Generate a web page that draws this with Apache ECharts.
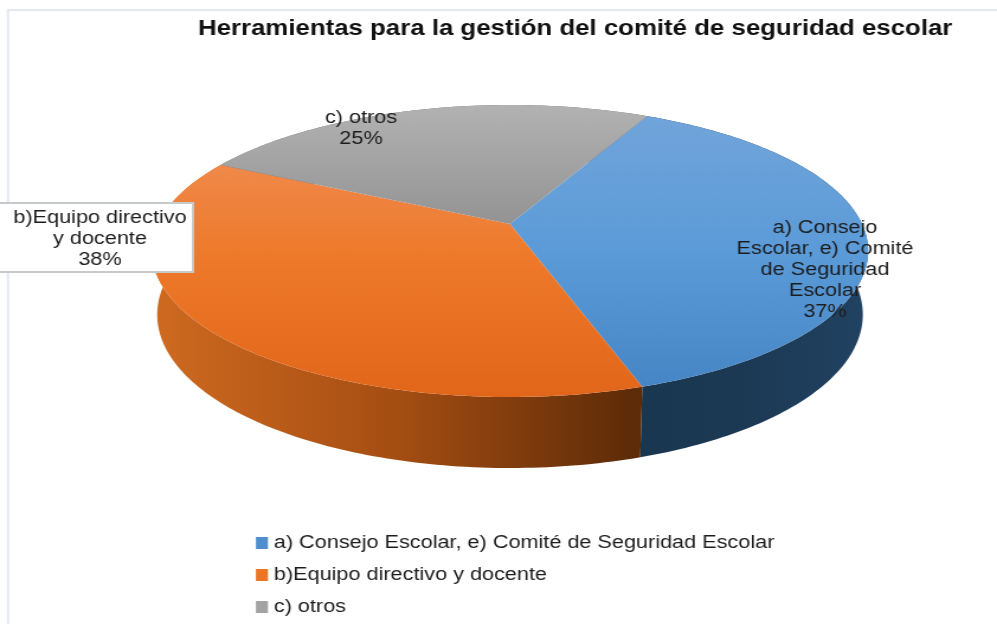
<!DOCTYPE html>
<html>
<head>
<meta charset="utf-8">
<style>
  html, body { margin: 0; padding: 0; background: #fff; overflow: hidden; }
  /* the source picture is a screenshot stretched sideways, so the chart is too */
  #chart { width: 842px; height: 624px; transform-origin: 0 0; transform: scaleX(1.18408); }
</style>
<script src="https://cdn.jsdelivr.net/npm/echarts@6/dist/echarts.min.js"></script>
</head>
<body>
<div id="chart"></div>
<script>
const chartTitle = 'Herramientas para la gestión del comité de seguridad escolar'
const categories = [
  'a) Consejo Escolar, e) Comité de Seguridad Escolar',
  'b)Equipo directivo y docente',
  'c) otros'
]
const percents = [37.49, 37.51, 25]
const labelLines = [
  ['a) Consejo', 'Escolar, e) Comité', 'de Seguridad', 'Escolar'],
  ['b)Equipo directivo', 'y docente'],
  ['c) otros']
]
const labelSpots = [[825, 270], [100, 239], [361, 128]]

// everything below is given in screen px, sx() takes it to the unstretched canvas
const stretch = 997 / 842
const sx = (px) => px / stretch

// perspective of the disc, fitted by eye against the picture
const cx = 510, cy = 224, rx = 352, ry = 141, persp = 0.185
const startDeg = 27

function project (deg) {
  let t = deg * Math.PI / 180
  let u = Math.sin(t), v = -Math.cos(t)
  let w = 1 - persp * v
  return { x: cx + rx * u / w, y: cy + ry * v / w, v: v }
}

function lower (p) {
  return [sx(cx + (p.x - cx) * 0.985), p.y + 62 + 9 * p.v]
}

const vGrad = (stops) => ({
  type: 'linear', global: true, x: 0, y: 106, x2: 0, y2: 398,
  colorStops: stops.map((c, i) => ({ offset: i / (stops.length - 1), color: c }))
})
const hGrad = (x1, x2, stops) => ({
  type: 'linear', global: true, x: sx(x1), y: 0, x2: sx(x2), y2: 0,
  colorStops: stops.map((c, i) => ({ offset: i / (stops.length - 1), color: c }))
})
const topFill = [
  vGrad(['#72a5da', '#5b9bd8', '#4484c4']),
  vGrad(['#f0935e', '#ee7a2c', '#e2661a']),
  vGrad(['#b2b2b2', '#8c8c8c', '#808080'])
]
const wallFill = [
  hGrad(638, 868, ['#1a3750', '#1c3a55', '#214262']),
  hGrad(152, 638, ['#cf6a20', '#a54e13', '#5c2b08']),
  '#6b6b6b'
]
const legendColor = ['#4f8fd0', '#ec7425', '#a3a3a3']

function makeRender (index) {
  return function () {
    let before = percents.slice(0, index).reduce((a, b) => a + b, 0)
    let from = startDeg + before * 3.6
    let to = from + percents[index] * 3.6
    let rim = []
    for (let d = from; d < to; d += 1) rim.push(project(d))
    rim.push(project(to))

    let topEdge = rim.map(p => [sx(p.x), p.y])
    let topPts = [[sx(cx), cy]].concat(topEdge)
    let wallPts = topEdge.concat(rim.slice().reverse().map(lower))

    let children = [
      { type: 'polygon', z2: 0, shape: { points: wallPts }, style: { fill: wallFill[index] } },
      { type: 'polygon', z2: 1, shape: { points: topPts }, style: { fill: topFill[index] } }
    ]
    if (index === 1) {
      children.push({
        type: 'rect', z2: 4,
        shape: { x: sx(-6), y: 203, width: sx(199), height: 69 },
        style: { fill: '#fff', stroke: '#c6cacd', lineWidth: 2 }
      })
    }
    children.push({
      type: 'text', z2: 5,
      x: sx(labelSpots[index][0]), y: labelSpots[index][1],
      style: {
        text: labelLines[index].concat(Math.round(percents[index]) + '%').join('\n'),
        font: '18.3px "Liberation Sans"',
        lineHeight: 21,
        fill: '#1c1c1c',
        align: 'center',
        verticalAlign: 'middle'
      }
    })
    return { type: 'group', children: children }
  }
}

let series = categories.map((name, i) => ({
  type: 'custom',
  name: name,
  coordinateSystem: 'none',
  silent: true,
  itemStyle: { color: legendColor[i] },
  data: [[percents[i]]],
  renderItem: makeRender(i)
}))

let myChart = echarts.init(document.getElementById('chart'))
myChart.setOption({
  animation: false,
  backgroundColor: '#fff',
  title: {
    text: chartTitle,
    left: sx(192),
    top: 13,
    textStyle: { fontFamily: 'Liberation Sans', fontSize: 21.8, fontWeight: 'bold', color: '#111' }
  },
  legend: {
    orient: 'vertical',
    left: sx(250),
    top: 529,
    icon: 'rect',
    itemWidth: sx(12),
    itemHeight: 12,
    itemGap: 14,
    selectedMode: false,
    textStyle: { fontFamily: 'Liberation Sans', fontSize: 18.3, color: '#1c1c1c' },
    data: categories
  },
  graphic: [
    { type: 'line', shape: { x1: sx(8), y1: 10, x2: 842, y2: 10 }, style: { stroke: '#e3e8ee', lineWidth: 2 } },
    { type: 'line', shape: { x1: sx(8), y1: 9, x2: sx(8), y2: 624 }, style: { stroke: '#e3e8ee', lineWidth: 2 } }
  ],
  series: series
})
</script>
</body>
</html>
